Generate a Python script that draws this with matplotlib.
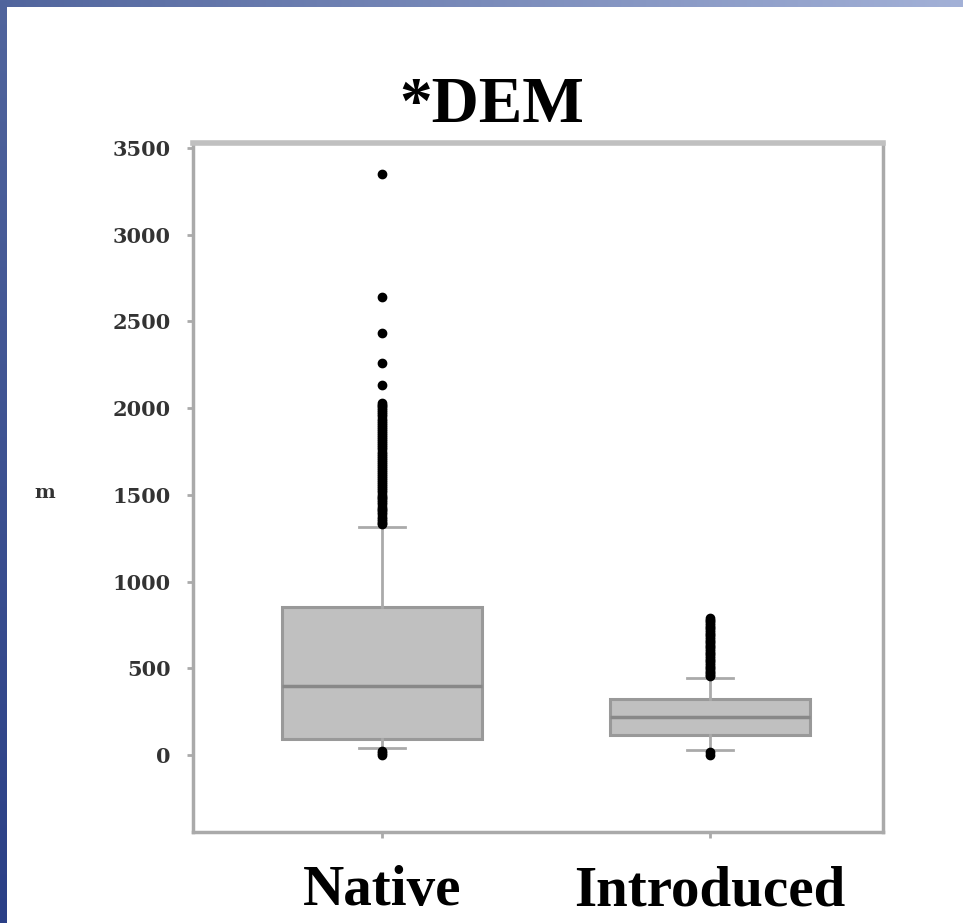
import numpy as np
import matplotlib.pyplot as plt

# box statistics (m)
groups = ["Native", "Introduced"]
medians = [398, 219]
q1s = [92, 115]
q3s = [853, 323]
whis_lo = [42, 29]
whis_hi = [1315, 444]

native_fliers = [3350, 2640, 2435, 2260, 2135, 2030, 2020, 2010, 2000, 1990, 1978,
                 1965, 1952, 1940, 1928, 1915, 1902, 1890, 1880, 1870, 1858, 1845,
                 1832, 1820, 1810, 1800, 1788, 1775, 1762, 1750, 1738, 1725, 1712,
                 1700, 1690, 1680, 1668, 1655, 1642, 1630, 1620, 1610, 1598, 1585,
                 1572, 1560, 1550, 1540, 1528, 1515, 1502, 1490, 1480, 1470, 1458,
                 1445, 1432, 1420, 1410, 1400, 1388, 1375, 1362, 1350, 1340, 1330,
                 25, 10, 0]
introduced_fliers = [790, 780, 770, 760, 750, 740, 730, 720, 710, 700, 690, 680,
                     670, 660, 650, 640, 630, 620, 610, 600, 590, 580, 570, 560,
                     550, 540, 530, 520, 510, 500, 490, 480, 470, 462, 455, 15, 0]
fliers = [native_fliers, introduced_fliers]

yticks = [0, 500, 1000, 1500, 2000, 2500, 3000, 3500]

W, H = 963, 923
fig = plt.figure(figsize=(W / 100, H / 100), dpi=100)

# slide background: blue strips on top and left
bg = np.ones((H, W, 3))
top_l = np.array([0x51, 0x65, 0x9d]) / 255
top_r = np.array([0xa3, 0xb1, 0xd7]) / 255
t = np.linspace(0, 1, W)[:, None]
bg[:7, :, :] = (top_l * (1 - t) + top_r * t)[None, :, :]
bot_l = np.array([0x2a, 0x3f, 0x86]) / 255
s = np.linspace(0, 1, H)[:, None]
bg[:, :7, :] = (top_l * (1 - s) + bot_l * s)[:, None, :]
bgax = fig.add_axes([0, 0, 1, 1])
bgax.imshow(bg, aspect="auto", interpolation="nearest")
bgax.axis("off")

ax = fig.add_axes([193 / W, 1 - 832 / H, 690 / W, 689 / H])
stats = []
for i, g in enumerate(groups):
    stats.append(dict(label=g, med=medians[i], q1=q1s[i], q3=q3s[i],
                      whislo=whis_lo[i], whishi=whis_hi[i], fliers=fliers[i]))

ax.bxp(stats, positions=[1, 2], widths=0.61, patch_artist=True, capwidths=0.14,
       boxprops=dict(facecolor="#c0c0c0", edgecolor="#999999", linewidth=2.2),
       medianprops=dict(color="#888888", linewidth=2.5),
       whiskerprops=dict(color="#aaaaaa", linewidth=2),
       capprops=dict(color="#aaaaaa", linewidth=2),
       flierprops=dict(marker="o", markersize=6, markerfacecolor="black",
                       markeredgecolor="black"))

ax.set_xlim(0.424, 2.527)
ax.set_ylim(-444, 3529)
ax.set_yticks(yticks)
ax.set_yticklabels([str(v) for v in yticks], family="DejaVu Serif", fontsize=15,
                   color="#333333", fontweight="bold")
ax.set_xticks([1, 2])
ax.set_xticklabels(groups, family="Liberation Serif", fontsize=41, fontweight="bold")
ax.tick_params(axis="y", direction="out", length=4, width=2, color="#aaaaaa", pad=12)
ax.tick_params(axis="x", direction="out", length=4, width=2, color="#aaaaaa", pad=20)
for side in ["left", "right", "bottom"]:
    ax.spines[side].set_color("#aaaaaa")
    ax.spines[side].set_linewidth(2.5)
ax.spines["top"].set_color("#c0c0c0")
ax.spines["top"].set_linewidth(4)

ax.set_ylabel("m", family="DejaVu Serif", fontsize=14, fontweight="bold",
              color="#333333", rotation=0, va="center")
ax.yaxis.set_label_coords(-0.215, 0.492)

fig.text(492 / W, 1 - 122 / H, "*DEM", family="Liberation Serif", fontsize=47,
         fontweight="bold", ha="center", va="baseline")

fig.savefig("out.png", dpi=100)
